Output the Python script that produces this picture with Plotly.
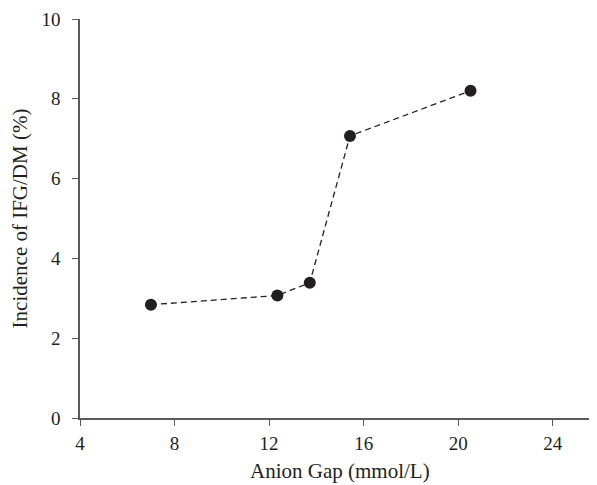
import plotly.graph_objects as go

anion_gap = [7.0, 12.35, 13.72, 15.42, 20.52]
incidence = [2.84, 3.07, 3.39, 7.07, 8.20]
x_ticks = [4, 8, 12, 16, 20, 24]
y_ticks = [0, 2, 4, 6, 8, 10]

ink = "#231f20"
axis_col = "#5a5a5a"
font_family = "Liberation Serif, Times New Roman, serif"

fig = go.Figure()
fig.add_trace(go.Scatter(
    x=anion_gap, y=incidence, mode="lines+markers",
    line=dict(color=ink, width=1.3, dash="6px,4px"),
    marker=dict(color=ink, size=12),
    showlegend=False, cliponaxis=False,
))

# the page body has an 8px default margin, so the figure is sized to fill the window
fig.update_layout(
    width=589, height=477,
    margin=dict(l=72, r=0, t=11, b=67),
    plot_bgcolor="white", paper_bgcolor="white",
    font=dict(family=font_family, size=18, color=ink),
)
fig.update_xaxes(
    range=[4, 25.87], tickvals=x_ticks, ticktext=[str(v) for v in x_ticks],
    showline=True, linecolor=axis_col, linewidth=1.5,
    ticks="outside", ticklen=6, tickwidth=1.3, tickcolor=axis_col,
    ticklabelstandoff=1,
    showgrid=False, zeroline=False,
    tickfont=dict(size=19, color=ink),
)
fig.update_yaxes(
    range=[0, 10], tickvals=y_ticks, ticktext=[str(v) for v in y_ticks],
    showline=True, linecolor=axis_col, linewidth=1.5,
    ticks="outside", ticklen=6, tickwidth=1.3, tickcolor=axis_col,
    ticklabelstandoff=8,
    showgrid=False, zeroline=False,
    tickfont=dict(size=19, color=ink),
    title=dict(text="Incidence of IFG/DM (%)", font=dict(size=21, color=ink), standoff=9),
)
fig.add_annotation(
    text="Anion Gap (mmol/L)", showarrow=False,
    xref="paper", yref="paper", x=0.503, y=-0.1328,
    xanchor="center", yanchor="middle",
    font=dict(size=21, color=ink, family=font_family),
)

fig.write_html("out.html")
